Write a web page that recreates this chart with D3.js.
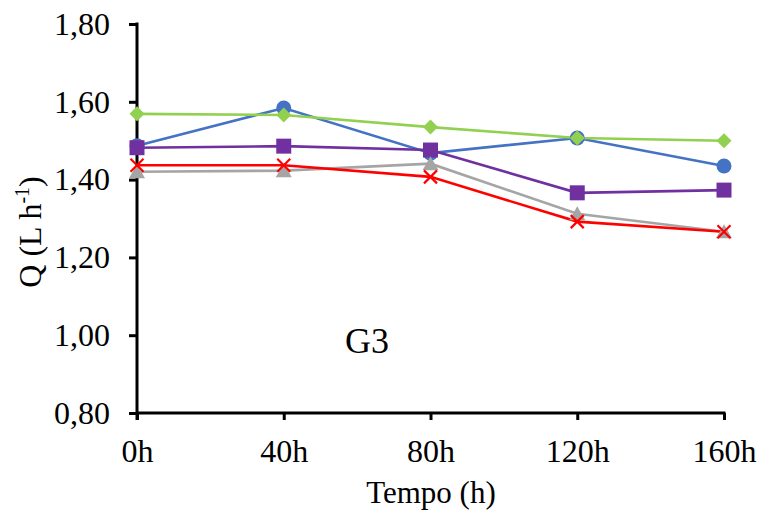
<!DOCTYPE html>
<html><head><meta charset="utf-8">
<script src="https://cdn.jsdelivr.net/npm/d3@7"></script>
<style>body{margin:0;background:#fff}text{font-family:"Liberation Serif","Times New Roman",serif}</style>
</head><body><svg id="c" width="762" height="515"></svg>
<script>
const categories = ["0h","40h","80h","120h","160h"];
const yTicks = [0.8,1.0,1.2,1.4,1.6,1.8];
const blue   = [1.487,1.584,1.468,1.507,1.435];
const purple = [1.482,1.486,1.476,1.366,1.373];
const gray   = [1.420,1.423,1.441,1.312,1.266];
const red    = [1.437,1.437,1.407,1.292,1.266];
const green  = [1.569,1.566,1.535,1.507,1.500];

const series = [
  {values:blue, color:"#4472C4", sym:"circle"},
  {values:purple, color:"#7030A0", sym:"square"},
  {values:gray, color:"#A5A5A5", sym:"triangle"},
  {values:red, color:"#FF0000", sym:"x"},
  {values:green, color:"#92D050", sym:"diamond"}
];

const svg = d3.select("#c");
const x = d3.scalePoint().domain(categories).range([137,724]);
const y = d3.scaleLinear().domain([0.8,1.8]).range([413,24]);
const fmt = v => d3.format(".2f")(v).replace(".", ",");

const yAxis = svg.append("g").attr("transform","translate(137,0)")
  .call(d3.axisLeft(y).tickValues(yTicks).tickFormat(fmt).tickSize(8).tickSizeOuter(0).tickPadding(19));
const xAxis = svg.append("g").attr("transform","translate(0,413)")
  .call(d3.axisBottom(x).tickSize(7).tickSizeOuter(0).tickPadding(19));
[yAxis,xAxis].forEach(a=>{
  a.attr("font-size",null).attr("font-family",null);
  a.select(".domain").attr("stroke","#000").attr("stroke-width",3);
  a.selectAll(".tick line").attr("stroke","#000").attr("stroke-width",3);
  a.selectAll(".tick text").attr("font-size",32).attr("fill","#000");
});
yAxis.select(".domain").attr("d","M0,22.5V420");
xAxis.select(".domain").attr("d","M137,0H725.5");

const line = d3.line().x((d,i)=>x(categories[i])).y(d=>y(d));
series.forEach(s=>{
  svg.append("path").attr("d",line(s.values)).attr("fill","none")
    .attr("stroke",s.color).attr("stroke-width",2.6);
});
function markerPath(sym){
  switch(sym){
    case "circle": return d3.symbol().type(d3.symbolCircle).size(Math.PI*7.5*7.5)();
    case "square": return "M-7.5,-7.5H7.5V7.5H-7.5Z";
    case "diamond": return "M0,-7.5L7.5,0L0,7.5L-7.5,0Z";
    case "triangle": return "M0,-7.5L8,6.5L-8,6.5Z";
    case "x": return "M-6.5,-6.5L6.5,6.5M-6.5,6.5L6.5,-6.5";
  }
}
series.forEach(s=>{
  const g = svg.append("g");
  s.values.forEach((v,i)=>{
    const p = g.append("path").attr("d",markerPath(s.sym))
      .attr("transform",`translate(${x(categories[i])},${y(v)})`);
    if(s.sym==="x") p.attr("stroke",s.color).attr("stroke-width",2.2).attr("fill","none");
    else p.attr("fill",s.color);
  });
});

svg.append("text").attr("x",367).attr("y",353).attr("text-anchor","middle")
  .attr("font-size",36).text("G3");
svg.append("text").attr("x",431).attr("y",503).attr("text-anchor","middle")
  .attr("font-size",31).text("Tempo (h)");
const yt = svg.append("text").attr("transform","translate(41,232) rotate(-90)")
  .attr("text-anchor","middle").attr("font-size",32);
yt.append("tspan").text("Q (L h");
yt.append("tspan").attr("dy",-12).attr("font-size",20).text("-1");
yt.append("tspan").attr("dy",12).text(")");
</script></body></html>
